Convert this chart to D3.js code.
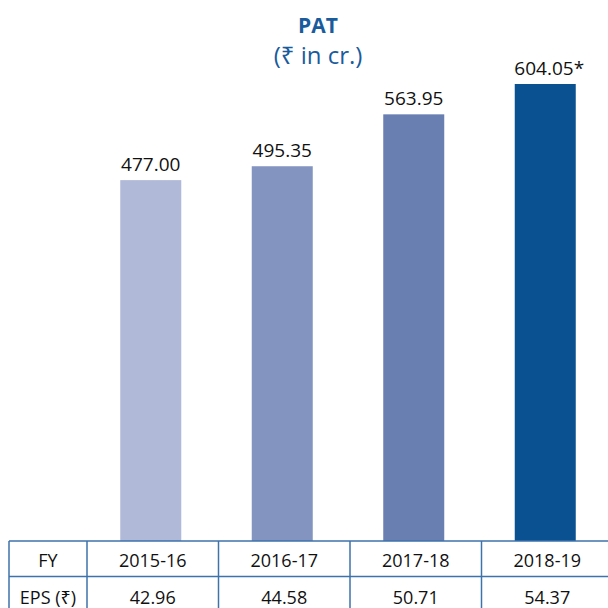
<!DOCTYPE html>
<html>
<head>
<meta charset="utf-8">
<script src="https://cdn.jsdelivr.net/npm/d3@7"></script>
<style>
  body { margin: 0; background: #fff; }
  svg text { font-family: "Open Sans", "Noto Sans", sans-serif; }
</style>
</head>
<body>
<div class="container"></div>
<script>
/********** the Data **********/
let years = ["2015-16", "2016-17", "2017-18", "2018-19"];
let pat = [477.00, 495.35, 563.95, 604.05];
let patLabels = ["477.00", "495.35", "563.95", "604.05*"];
let eps = ["42.96", "44.58", "50.71", "54.37"];
let barColors = ["#b1b9d9", "#8394c1", "#697fb2", "#0a5191"];

/********** drawChart **********/
function drawChart() {
  let width = 608, height = 608;
  let baseY = 541;       // bottom of bars / top of table
  let topY = 84;         // top of tallest bar
  let tableLeft = 9, labelColRight = 87;
  let rowH = 35.5;
  let textColor = "#111";

  let svg = d3.select(".container")
    .append("svg")
      .attr("class", "chart")
      .attr("width", width)
      .attr("height", height);

  // table columns
  let colWidth = 131.5;
  let colScale = d3.scaleBand()
    .domain(years)
    .range([labelColRight, labelColRight + colWidth * years.length]);

  // bars, sitting a little left of the column middle
  let bw = 61;
  let p = 1 - bw / colWidth;
  let xScale = d3.scaleBand()
    .domain(years)
    .range([labelColRight - 2, labelColRight - 2 + colWidth * years.length])
    .paddingInner(p)
    .paddingOuter(p / 2);

  let yScale = d3.scaleLinear()
    .domain([0, d3.max(pat)])
    .range([baseY, topY]);

  let data = years.map((y, i) => ({year: y, value: pat[i], label: patLabels[i], eps: eps[i], color: barColors[i]}));

  /* title */
  svg.append("text")
    .attr("x", 318).attr("y", 33)
    .attr("text-anchor", "middle")
    .attr("fill", "#1a5b9c")
    .style("font-size", "21px")
    .style("font-weight", "bold")
    .text("PAT");

  svg.append("text")
    .attr("x", 318).attr("y", 64)
    .attr("text-anchor", "middle")
    .attr("fill", "#1a5b9c")
    .style("font-size", "24px")
    .text("(₹ in cr.)");

  /* bars */
  svg.selectAll(".bar")
    .data(data)
    .join("rect")
      .attr("class", "bar")
      .attr("x", d => xScale(d.year))
      .attr("y", d => yScale(d.value))
      .attr("width", xScale.bandwidth())
      .attr("height", d => baseY - yScale(d.value))
      .attr("fill", d => d.color);

  /* value labels */
  svg.selectAll(".val")
    .data(data)
    .join("text")
      .attr("class", "val")
      .attr("x", d => xScale(d.year) + xScale.bandwidth() / 2 + (d.label.endsWith("*") ? 4 : 0))
      .attr("y", d => yScale(d.value) - 9)
      .attr("text-anchor", "middle")
      .attr("fill", textColor)
      .style("font-size", "19px")
      .text(d => d.label);

  /* table */
  let lineColor = "#3d72aa";
  let table = svg.append("g").attr("class", "table");

  // horizontal rules
  [baseY, baseY + rowH].forEach(y => {
    table.append("line")
      .attr("x1", tableLeft).attr("x2", width)
      .attr("y1", y).attr("y2", y)
      .attr("stroke", lineColor).attr("stroke-width", 1.5);
  });
  // vertical rules
  [tableLeft].concat(years.map(y => colScale(y))).forEach(x => {
    table.append("line")
      .attr("x1", x).attr("x2", x)
      .attr("y1", baseY).attr("y2", height)
      .attr("stroke", lineColor).attr("stroke-width", 1.5);
  });

  let rowText = [baseY + 26, baseY + rowH + 27];
  let labelMid = (tableLeft + labelColRight) / 2;

  table.append("text")
    .attr("x", labelMid).attr("y", rowText[0])
    .attr("text-anchor", "middle").attr("fill", textColor)
    .style("font-size", "18px")
    .text("FY");
  table.append("text")
    .attr("x", labelMid).attr("y", rowText[1])
    .attr("text-anchor", "middle").attr("fill", textColor)
    .style("font-size", "18px")
    .text("EPS (₹)");

  table.selectAll(".fy")
    .data(data)
    .join("text")
      .attr("class", "fy")
      .attr("x", d => colScale(d.year) + colScale.bandwidth() / 2)
      .attr("y", rowText[0])
      .attr("text-anchor", "middle").attr("fill", textColor)
      .style("font-size", "18px")
      .text(d => d.year);

  table.selectAll(".eps")
    .data(data)
    .join("text")
      .attr("class", "eps")
      .attr("x", d => colScale(d.year) + colScale.bandwidth() / 2)
      .attr("y", rowText[1])
      .attr("text-anchor", "middle").attr("fill", textColor)
      .style("font-size", "18px")
      .text(d => d.eps);
}

drawChart();
</script>
</body>
</html>
